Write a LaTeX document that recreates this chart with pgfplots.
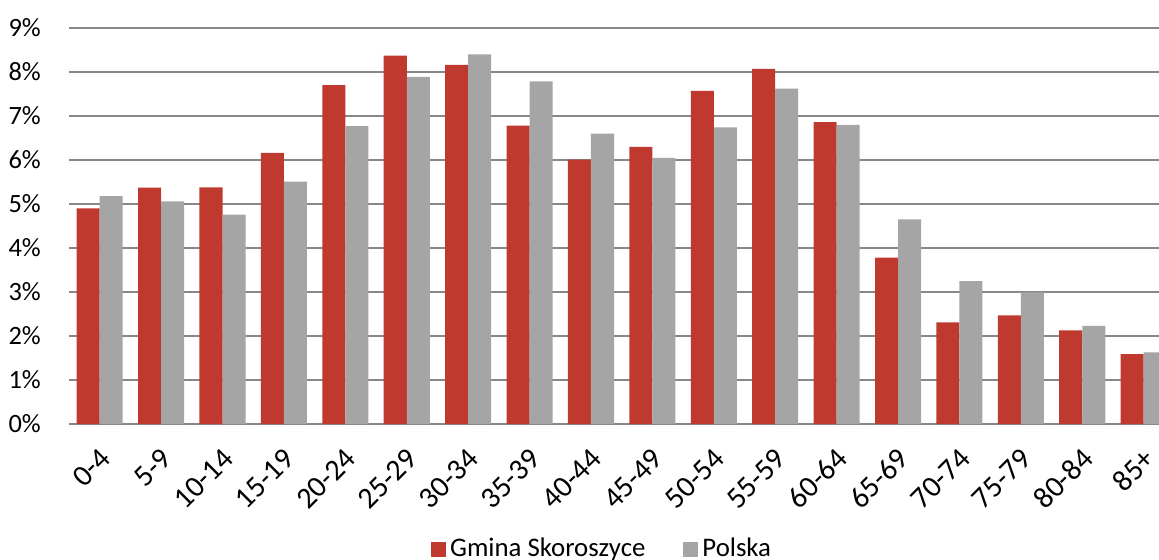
\documentclass[border=0pt]{standalone}
\usepackage{fontspec}
\setmainfont{Carlito}
\usepackage{pgfplots}
\pgfplotsset{compat=1.18}
\definecolor{gmina}{HTML}{C0392F}
\definecolor{polska}{HTML}{A5A5A5}
\definecolor{gridc}{HTML}{878787}
\begin{document}
\fontsize{13.2}{15}\selectfont
\begin{tikzpicture}
\useasboundingbox (-34.5pt,-67.5pt) rectangle (545pt,212pt);
\begin{axis}[
    at={(0pt,0pt)}, anchor=south west,
    scale only axis, width=545pt, height=198pt,
    xmin=-0.5, xmax=17.25, ymin=0, ymax=9,
    ybar=0pt, bar width=0.375,
    axis line style={draw=none},
    tick style={draw=none},
    ymajorgrids, grid style={draw=gridc, line width=0.9pt},
    ytick={0,1,...,9},
    yticklabels={0\%,1\%,2\%,3\%,4\%,5\%,6\%,7\%,8\%,9\%},
    y tick label style={font=\fontsize{13.2}{15}\selectfont, xshift=-9.5pt},
    xtick={0,1,...,17},
    xticklabels={0-4,5-9,10-14,15-19,20-24,25-29,30-34,35-39,40-44,45-49,50-54,55-59,60-64,65-69,70-74,75-79,80-84,85+},
    x tick label style={font=\fontsize{15}{17}\selectfont, rotate=45, anchor=east, yshift=-9.5pt, xshift=-1pt},
    legend style={at={(0.49,-0.316)}, anchor=center, draw=none, legend columns=2,
        font=\fontsize{13.4}{15}\selectfont,
        /tikz/every even column/.append style={column sep=17pt}},
    legend image code/.code={\fill[#1] (0pt,-3.75pt) rectangle (7.5pt,3.75pt);},
]
\addplot[fill=gmina, draw=none] coordinates {
(0,4.90) (1,5.37) (2,5.38) (3,6.16) (4,7.70) (5,8.37) (6,8.16) (7,6.78) (8,6.01)
(9,6.30) (10,7.57) (11,8.07) (12,6.86) (13,3.78) (14,2.31) (15,2.47) (16,2.13) (17,1.59)};
\addplot[fill=polska, draw=none] coordinates {
(0,5.18) (1,5.06) (2,4.76) (3,5.51) (4,6.77) (5,7.89) (6,8.40) (7,7.79) (8,6.60)
(9,6.05) (10,6.74) (11,7.62) (12,6.80) (13,4.65) (14,3.25) (15,2.99) (16,2.23) (17,1.63)};
\legend{Gmina Skoroszyce, Polska}
\end{axis}
\end{tikzpicture}
\end{document}
